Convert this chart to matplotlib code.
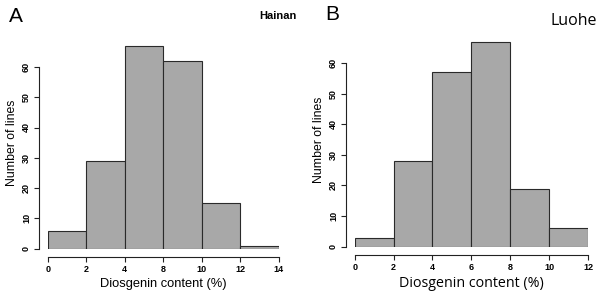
import matplotlib
matplotlib.use("Agg")
import matplotlib.pyplot as plt

plt.rcParams['font.family'] = ['Liberation Sans', 'DejaVu Sans']

bin_edges = [0, 2, 4, 6, 8, 10, 12]
counts_hainan = [6, 29, 67, 62, 15, 1]
counts_luohe = [3, 28, 57, 67, 19, 6]
xticklabels_hainan = ["0", "2", "4", "8", "10", "12", "14"]
xticklabels_luohe = ["0", "2", "4", "6", "8", "10", "12"]
yticks = [0, 10, 20, 30, 40, 50, 60]

W, H = 596, 297


def px_axes(fig, x0, x1, y0, ytop):
    # pixel coords (top-left origin) -> figure fraction
    return fig.add_axes([x0 / W, (H - y0) / H, (x1 - x0) / W, (y0 - ytop) / H])


def hist_panel(ax, counts, xticklabels, xlab_font, xlab_size):
    widths = [bin_edges[i + 1] - bin_edges[i] for i in range(len(counts))]
    ax.bar(bin_edges[:-1], counts, width=widths, align='edge',
           color='#a8a8a8', edgecolor='#2a2a2a', linewidth=0.8)
    ax.set_xlim(bin_edges[0], bin_edges[-1])
    ax.set_ylim(0, 70)
    for s in ['top', 'right']:
        ax.spines[s].set_visible(False)
    ax.spines['left'].set_position(('outward', 6))
    ax.spines['bottom'].set_position(('outward', 5.8))
    ax.spines['left'].set_bounds(0, 60)
    ax.spines['bottom'].set_bounds(bin_edges[0], bin_edges[-1])
    for s in ['left', 'bottom']:
        ax.spines[s].set_linewidth(0.8)
        ax.spines[s].set_color('#222222')
    ax.set_xticks(bin_edges)
    ax.set_xticklabels(xticklabels, fontsize=6.5, fontweight='bold')
    ax.set_yticks(yticks)
    ax.set_yticklabels([str(v) for v in yticks], fontsize=6.5,
                       fontweight='bold', rotation=90, va='center')
    ax.tick_params(direction='out', length=3.5, width=0.8, color='#222222', pad=2.5)
    ax.set_ylabel("Number of lines", fontsize=8.8, labelpad=3)
    ax.set_xlabel("Diosgenin content (%)", fontsize=xlab_size, labelpad=3,
                  family=xlab_font)


fig = plt.figure(figsize=(W / 100, H / 100), dpi=100)

axA = px_axes(fig, 47.7, 278.7, 248.7, 248.7 - 70 * 3.03)
hist_panel(axA, counts_hainan, xticklabels_hainan, ['Liberation Sans'], 9.3)
axB = px_axes(fig, 354.7, 588, 246.7, 246.7 - 70 * 3.06)
hist_panel(axB, counts_luohe, xticklabels_luohe, ['Open Sans', 'DejaVu Sans'], 10.3)

fig.text(9 / W, 1 - 16 / H, "A", fontsize=15, va='center', ha='left')
fig.text(297 / W, 1 - 16 / H, "Hainan", fontsize=8, fontweight='bold',
         va='center', ha='right')
fig.text(325 / W, 1 - 14 / H, "B", fontsize=15, va='center', ha='left')
fig.text(597 / W, 1 - 21 / H, "Luohe", fontsize=11.5, va='center', ha='right',
         family=['Open Sans', 'DejaVu Sans'])

fig.savefig("out.png", dpi=100)
